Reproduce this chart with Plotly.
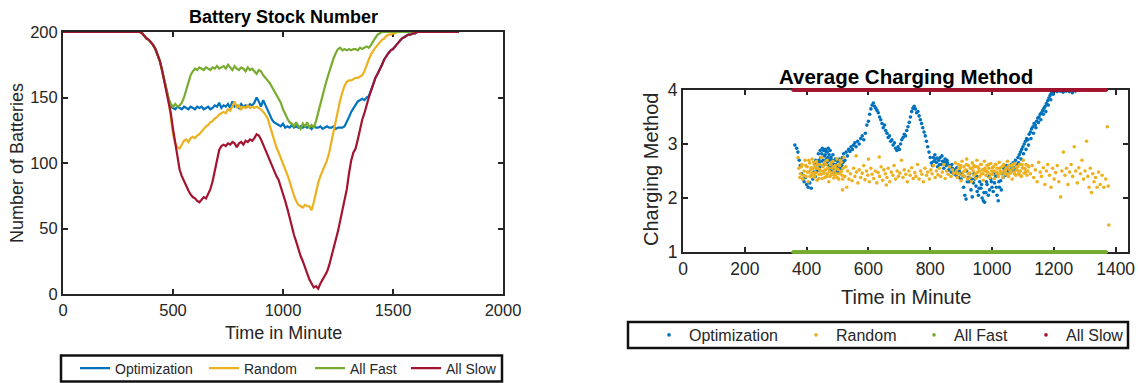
import plotly.graph_objects as go

# ---------------- Left chart data: Battery Stock Number ----------------
stock_t = [0, 340] + list(range(350, 1630, 10)) + [1800]

slow_v = [200, 200,
    200, 199, 197, 195, 194, 192, 190, 187, 183, 178,
    171, 163, 155, 148, 138, 126, 116, 105, 95, 90,
    86, 82, 79, 76, 74, 73, 71, 70, 72, 74,
    73, 76, 80, 86, 95, 104, 110, 113, 114, 113,
    115, 114, 116, 115, 112, 115, 116, 114, 117, 116,
    118, 117, 119, 122, 121, 118, 114, 110, 106, 101,
    97, 93, 90, 87, 82, 76, 71, 65, 58, 52,
    45, 40, 34, 29, 25, 20, 16, 11, 8, 5,
    6, 4, 8, 11, 14, 17, 22, 28, 35, 41,
    48, 56, 64, 72, 80, 92, 102, 108, 111, 118,
    126, 133, 138, 145, 150, 155, 160, 165, 168, 171,
    175, 179, 182, 184, 186, 187, 189, 191, 193, 195,
    196, 197, 198, 198, 199, 199, 200, 200,
    200]

fast_v = [200, 200,
    200, 199, 197, 195, 194, 192, 190, 187, 183, 178,
    171, 163, 155, 149, 145, 143, 145, 143, 144, 146,
    150, 156, 162, 167, 170, 172, 171, 173, 172, 171,
    173, 172, 171, 173, 172, 174, 172, 173, 174, 172,
    175, 173, 171, 174, 172, 171, 173, 172, 170, 173,
    171, 172, 170, 168, 171, 170, 167, 165, 163, 161,
    158, 155, 152, 149, 146, 141, 137, 134, 131, 130,
    128, 131, 128, 126, 130, 128, 131, 127, 129, 127,
    132, 139, 146, 152, 158, 164, 170, 175, 180, 184,
    187, 188, 186, 187, 186, 187, 186, 187, 187, 186,
    188, 187, 188, 189, 188, 190, 193, 196, 198, 199,
    200, 200, 200, 200, 200, 200, 200, 200, 200, 200,
    200, 200, 200, 200, 200, 200, 200, 200,
    200]

opt_v = [200, 200,
    200, 199, 197, 195, 194, 192, 190, 187, 183, 178,
    171, 163, 155, 149, 143, 142, 141, 143, 142, 141,
    143, 142, 141, 143, 142, 141, 143, 142, 143, 141,
    142, 143, 141, 142, 144, 143, 146, 142, 144, 143,
    145, 142, 147, 143, 144, 142, 145, 143, 144, 143,
    145, 144, 146, 150, 147, 143, 148, 144, 140, 136,
    133, 131, 130, 129, 128, 130, 127, 128, 127, 129,
    127, 128, 127, 128, 127, 128, 127, 128, 126, 128,
    127, 127, 128, 126, 127, 128, 127, 127, 128, 126,
    127, 127, 127, 128, 131, 135, 139, 142, 145, 147,
    148, 149, 148, 150, 151, 155, 160, 165, 168, 171,
    175, 179, 182, 184, 186, 187, 189, 191, 193, 195,
    196, 197, 198, 198, 199, 199, 200, 200,
    200]

rand_v = [200, 200,
    200, 199, 197, 195, 194, 192, 190, 187, 183, 178,
    171, 163, 155, 148, 135, 122, 115, 112, 111, 114,
    117, 118, 116, 119, 120, 119, 121, 122, 124, 126,
    128, 129, 131, 132, 134, 135, 137, 138, 139, 138,
    141, 140, 143, 147, 142, 144, 141, 143, 142, 144,
    142, 143, 142, 143, 142, 141, 139, 137, 134, 128,
    122, 116, 112, 108, 104, 99, 95, 91, 86, 80,
    75, 71, 68, 67, 66, 68, 67, 67, 64, 70,
    78, 85, 90, 94, 98, 102, 108, 116, 124, 133,
    141, 148, 154, 159, 162, 163, 163, 164, 165, 165,
    166, 167, 170, 175, 179, 183, 186, 188, 190, 192,
    194, 195, 197, 198, 198, 199, 199, 200, 200, 200,
    200, 200, 200, 200, 200, 200, 200, 200,
    200]

# ---------------- Right chart data: Average Charging Method ----------------
opt_pts = [
    (362, 2.98), (368, 2.92), (372, 2.85), (376, 2.70), (380, 2.60), (384, 2.45), (388, 2.35),
    (392, 2.30), (396, 2.38), (400, 2.25), (405, 2.20), (410, 2.28), (415, 2.18), (420, 2.35),
    (424, 2.48), (428, 2.40), (432, 2.55), (436, 2.62), (440, 2.70), (443, 2.58), (446, 2.75),
    (449, 2.82), (452, 2.68), (455, 2.88), (458, 2.78), (461, 2.90), (464, 2.72), (467, 2.85),
    (470, 2.92), (473, 2.80), (476, 2.88), (479, 2.75), (482, 2.65), (485, 2.80), (488, 2.55),
    (491, 2.70), (494, 2.62), (497, 2.50), (500, 2.68), (503, 2.58), (506, 2.72), (509, 2.65),
    (512, 2.55), (516, 2.75), (520, 2.82), (524, 2.70), (528, 2.85), (532, 2.78), (536, 2.90),
    (540, 2.86), (544, 2.95), (548, 2.90), (552, 2.98), (556, 3.02), (560, 2.95), (565, 3.05),
    (570, 3.00), (575, 3.10), (580, 3.15), (585, 3.08), (590, 3.20), (595, 3.35), (600, 3.42),
    (604, 3.55), (608, 3.65), (612, 3.72), (616, 3.76), (620, 3.70), (624, 3.66), (628, 3.62),
    (632, 3.58), (636, 3.50), (640, 3.45), (644, 3.38), (648, 3.30), (652, 3.35), (656, 3.25),
    (660, 3.20), (664, 3.12), (668, 3.15), (672, 3.05), (676, 3.08), (680, 2.98), (684, 3.02),
    (688, 2.92), (692, 2.88), (696, 2.95), (700, 2.90), (704, 3.00), (708, 3.08), (712, 3.12),
    (716, 3.18), (720, 3.15), (724, 3.25), (728, 3.32), (732, 3.40), (736, 3.50), (740, 3.60),
    (744, 3.66), (748, 3.70), (752, 3.65), (756, 3.58), (760, 3.60), (764, 3.52), (768, 3.45),
    (772, 3.38), (776, 3.30), (780, 3.22), (784, 3.15), (788, 3.05), (792, 2.95), (796, 2.85),
    (800, 2.75), (804, 2.65), (808, 2.60), (812, 2.68), (816, 2.72), (820, 2.66), (824, 2.58),
    (828, 2.70), (832, 2.75), (836, 2.62), (840, 2.68), (844, 2.55), (848, 2.72), (852, 2.60),
    (856, 2.65), (860, 2.52), (864, 2.58), (868, 2.48), (872, 2.55), (876, 2.45), (880, 2.50),
    (884, 2.42), (888, 2.48), (892, 2.38), (896, 2.45), (900, 2.35), (904, 2.42), (908, 2.20),
    (912, 2.05), (916, 1.98), (920, 2.30), (924, 2.38), (928, 2.45), (932, 2.15), (936, 2.02),
    (940, 2.28), (944, 2.35), (948, 2.22), (952, 2.12), (956, 2.05), (960, 2.30), (964, 2.18),
    (968, 2.00), (972, 1.95), (976, 1.92), (980, 2.10), (984, 2.25), (988, 2.05), (992, 2.15),
    (996, 2.35), (1000, 2.20), (1004, 2.12), (1008, 2.28), (1012, 2.40), (1016, 2.05), (1020, 1.95),
    (1024, 2.20), (1028, 2.32), (1032, 2.45), (1036, 2.38), (1040, 2.50), (1044, 2.42), (1048, 2.55),
    (1052, 2.48), (1056, 2.60), (1060, 2.52), (1064, 2.58), (1068, 2.65), (1072, 2.55), (1076, 2.70),
    (1080, 2.62), (1084, 2.75), (1088, 2.80), (1092, 2.85), (1096, 2.90), (1100, 2.95), (1104, 3.00),
    (1108, 3.05), (1112, 3.10), (1116, 3.08), (1120, 3.18), (1124, 3.22), (1128, 3.28), (1132, 3.32),
    (1136, 3.38), (1140, 3.35), (1144, 3.42), (1148, 3.48), (1152, 3.50), (1156, 3.55), (1160, 3.58),
    (1164, 3.62), (1168, 3.66), (1172, 3.70), (1176, 3.75), (1180, 3.80), (1184, 3.85), (1188, 3.90),
    (1192, 3.94), (1196, 3.98), (1200, 4.00), (1210, 3.97), (1220, 3.98), (1230, 3.96), (1240, 3.98),
    (1250, 3.97), (1260, 3.95), (1270, 3.98),
]
opt_pts_dense = [
    (426, 2.62), (430, 2.70), (434, 2.50), (438, 2.82), (441, 2.66), (444, 2.88), (447, 2.60),
    (451, 2.92), (454, 2.70), (457, 2.62), (460, 2.80), (463, 2.86), (466, 2.66), (469, 2.75),
    (472, 2.60), (475, 2.70), (478, 2.52), (481, 2.58), (484, 2.70), (487, 2.48), (490, 2.62),
    (494, 2.72), (498, 2.60), (502, 2.48), (505, 2.62), (508, 2.55), (511, 2.70), (514, 2.60),
    (518, 2.66), (810, 2.75), (815, 2.80), (822, 2.74), (830, 2.62), (838, 2.78), (846, 2.66),
    (854, 2.70), (862, 2.60), (870, 2.62), (878, 2.52), (886, 2.56), (894, 2.50), (902, 2.45),
    (910, 2.40), (918, 2.50), (926, 2.30), (934, 2.35), (942, 2.45), (950, 2.40), (958, 2.18),
    (966, 2.25), (974, 2.10), (982, 2.30), (990, 2.40), (998, 2.30), (1006, 2.45), (1014, 2.20),
    (1022, 2.30), (1030, 2.15), (1038, 2.55), (1046, 2.60), (1054, 2.50), (1062, 2.62), (1070, 2.50),
    (1078, 2.58), (1086, 2.65), (1094, 2.72), (1102, 2.82), (1110, 2.90), (1118, 2.98), (1126, 3.10),
    (1134, 3.20), (1142, 3.30), (1150, 3.40), (1158, 3.45), (1166, 3.55), (1174, 3.60), (1182, 3.72),
    (1190, 3.82), (1198, 3.92),
]

rand_pts = [
    (372, 2.75), (375, 2.55), (380, 2.45), (385, 2.62), (388, 2.35), (392, 2.50), (395, 2.70),
    (398, 2.40), (402, 2.58), (405, 2.30), (408, 2.48), (410, 2.65), (413, 2.52), (416, 2.42),
    (418, 2.72), (421, 2.55), (424, 2.38), (426, 2.60), (429, 2.47), (432, 2.68), (434, 2.33),
    (437, 2.55), (440, 2.44), (442, 2.62), (445, 2.50), (448, 2.75), (450, 2.36), (453, 2.58),
    (456, 2.46), (458, 2.66), (461, 2.52), (464, 2.40), (466, 2.70), (469, 2.56), (472, 2.30),
    (474, 2.49), (477, 2.62), (480, 2.43), (482, 2.55), (485, 2.68), (488, 2.37), (490, 2.50),
    (493, 2.60), (496, 2.45), (498, 2.72), (501, 2.53), (504, 2.35), (507, 2.60), (510, 2.48),
    (512, 2.66), (515, 2.42), (516, 2.15), (518, 2.55), (521, 2.75), (524, 2.40), (527, 2.58),
    (530, 2.20), (533, 2.50), (537, 2.35),
    (542, 2.45), (547, 2.32), (552, 2.55), (556, 2.40), (560, 2.78), (561, 2.48), (566, 2.28),
    (570, 2.52), (575, 2.38), (580, 2.46), (585, 2.60), (589, 2.34), (594, 2.50), (598, 2.42),
    (600, 2.72), (603, 2.30), (608, 2.55), (612, 2.44), (617, 2.36), (622, 2.50), (627, 2.28),
    (631, 2.47), (635, 2.76), (636, 2.40), (641, 2.58), (646, 2.33), (650, 2.52), (655, 2.45),
    (658, 2.24), (660, 2.38), (664, 2.55), (669, 2.30), (674, 2.48), (679, 2.42), (683, 2.60),
    (688, 2.35), (693, 2.50), (697, 2.40), (702, 2.46), (707, 2.70), (712, 2.38), (716, 2.52),
    (721, 2.44), (726, 2.30), (731, 2.50), (735, 2.42), (740, 2.56), (745, 2.36), (750, 2.47),
    (754, 2.40), (759, 2.62), (764, 2.35), (769, 2.50), (773, 2.44), (778, 2.30), (783, 2.55),
    (788, 2.42), (792, 2.48), (797, 2.35), (802, 2.52), (806, 2.45), (811, 2.60), (816, 2.38),
    (820, 2.50), (825, 2.43), (830, 2.55), (834, 2.40), (839, 2.48), (844, 2.62), (848, 2.36),
    (853, 2.50), (858, 2.44), (862, 2.58), (867, 2.40), (872, 2.52), (876, 2.46), (881, 2.65),
    (885, 2.50), (888, 2.38), (891, 2.62), (894, 2.45), (897, 2.55), (900, 2.32), (903, 2.68),
    (906, 2.48), (909, 2.58), (912, 2.40), (915, 2.52), (918, 2.72), (921, 2.35), (924, 2.60),
    (927, 2.46), (930, 2.55), (933, 2.30), (936, 2.65), (939, 2.50), (942, 2.42), (945, 2.58),
    (948, 2.36), (951, 2.70), (954, 2.48), (957, 2.55), (960, 2.40), (963, 2.62), (966, 2.45),
    (969, 2.52), (972, 2.33), (975, 2.68), (978, 2.50), (981, 2.42), (984, 2.60), (987, 2.47),
    (990, 2.55), (993, 2.38), (996, 2.64), (999, 2.50), (1002, 2.44), (1005, 2.58), (1008, 2.36),
    (1011, 2.62), (1014, 2.48), (1017, 2.55), (1020, 2.40), (1023, 2.66), (1026, 2.50), (1029, 2.45),
    (1032, 2.58), (1035, 2.38), (1038, 2.62), (1041, 2.50), (1044, 2.44), (1047, 2.56), (1050, 2.68),
    (1053, 2.40), (1056, 2.52), (1059, 2.46), (1062, 2.60), (1065, 2.35), (1068, 2.55), (1071, 2.48),
    (1074, 2.64), (1077, 2.42), (1080, 2.52), (1083, 2.58), (1086, 2.45), (1089, 2.62), (1092, 2.50),
    (1095, 2.40), (1098, 2.56), (1101, 2.70), (1104, 2.46), (1107, 2.54), (1110, 2.62), (1113, 2.42),
    (1116, 2.50), (1119, 2.58),
    (1124, 2.45), (1130, 2.60), (1135, 2.38), (1140, 2.52), (1146, 2.30), (1151, 2.66), (1156, 2.48),
    (1160, 2.40), (1166, 2.56), (1171, 2.25), (1176, 2.50), (1180, 2.62), (1186, 2.42), (1191, 2.20),
    (1196, 2.55), (1201, 2.35), (1206, 2.47), (1211, 2.60), (1216, 2.30), (1222, 2.02), (1226, 2.50),
    (1231, 2.85), (1236, 2.42), (1241, 2.55), (1246, 2.25), (1251, 2.48), (1256, 2.62), (1261, 2.40),
    (1266, 2.95), (1271, 2.50), (1276, 2.28), (1281, 2.56), (1286, 2.45), (1291, 2.70), (1296, 2.35),
    (1301, 2.50), (1306, 3.05), (1310, 2.40), (1314, 2.20), (1318, 2.55), (1322, 2.10), (1326, 2.45),
    (1330, 2.30), (1335, 2.38), (1340, 2.20), (1345, 2.48), (1350, 2.25), (1356, 2.42), (1362, 2.20),
    (1368, 2.35), (1373, 3.32), (1376, 2.22), (1378, 1.50),
]
rand_pts_dense = [
    (378, 2.38), (383, 2.58), (390, 2.42), (397, 2.60), (403, 2.48), (407, 2.70), (411, 2.40),
    (415, 2.56), (419, 2.46), (423, 2.66), (427, 2.42), (431, 2.55), (435, 2.62), (439, 2.36),
    (443, 2.52), (447, 2.44), (451, 2.60), (455, 2.50), (459, 2.38), (463, 2.62), (467, 2.45),
    (471, 2.55), (475, 2.40), (479, 2.65), (483, 2.46), (487, 2.58), (491, 2.42), (495, 2.55),
    (499, 2.38), (503, 2.62), (506, 2.45), (509, 2.70), (513, 2.50), (517, 2.35),
    (887, 2.45), (893, 2.55), (899, 2.60), (905, 2.42), (911, 2.50), (917, 2.62), (923, 2.45),
    (929, 2.38), (935, 2.55), (941, 2.60), (947, 2.45), (953, 2.58), (959, 2.50), (965, 2.62),
    (971, 2.45), (977, 2.55), (983, 2.50), (989, 2.62), (995, 2.44), (1001, 2.56), (1007, 2.50),
    (1013, 2.62), (1019, 2.45), (1025, 2.55), (1031, 2.48), (1037, 2.60), (1043, 2.52), (1049, 2.45),
    (1055, 2.60), (1061, 2.50), (1067, 2.62), (1073, 2.45), (1079, 2.58), (1085, 2.50), (1091, 2.42),
    (1097, 2.62), (1103, 2.55), (1109, 2.48), (1115, 2.60),
]

# All Fast / All Slow: constant methods over the active window
const_t = list(range(356, 1372, 2))
fast_method = [1] * len(const_t)
slow_method = [4] * len(const_t)

names = ["Optimization", "Random", "All Fast", "All Slow"]
colors = ["#0072BD", "#EDB120", "#77AC30", "#A2142F"]

FONT = "Liberation Sans, Arial, Helvetica, sans-serif"
AX = "#262626"
W, H = 1138, 383
def px_x(p): return p / W
def px_y(p): return 1 - p / H

fig = go.Figure()

# legend placement (pixel x of each item) for each chart
left_leg_x = [75, 204, 310, 406]
right_leg_x = [649, 796, 914, 1026]

# Left chart lines
for i, (name, vals, col) in enumerate(zip(names, [opt_v, rand_v, fast_v, slow_v], colors)):
    fig.add_trace(go.Scatter(x=stock_t, y=vals, mode="lines", name=name,
                             line=dict(color=col, width=2.2),
                             xaxis="x", yaxis="y", legend="legend" if i == 0 else f"legend{i + 1}"))

# Right chart points
opt_all = opt_pts + opt_pts_dense
rand_all = rand_pts + rand_pts_dense
right_series = [
    ([p[0] for p in opt_all], [p[1] for p in opt_all]),
    ([p[0] for p in rand_all], [p[1] for p in rand_all]),
    (const_t, fast_method),
    (const_t, slow_method),
]
for i, (name, (xs, ys), col) in enumerate(zip(names, right_series, colors)):
    fig.add_trace(go.Scatter(x=xs, y=ys, mode="markers", name=name,
                             marker=dict(color=col, size=3.6, line=dict(width=0)),
                             cliponaxis=False,
                             xaxis="x2", yaxis="y2", legend=f"legend{i + 5}"))

axis_common = dict(showline=True, linecolor=AX, linewidth=2, mirror="ticks",
                   ticks="inside", ticklen=5, tickwidth=2, tickcolor=AX,
                   showgrid=False, zeroline=False, layer="below traces")

legends = {}
for i in range(4):
    key = "legend" if i == 0 else f"legend{i + 1}"
    legends[key] = dict(x=px_x(left_leg_x[i]), y=px_y(368.5), xanchor="left", yanchor="middle",
                        bgcolor="rgba(0,0,0,0)", borderwidth=0,
                        font=dict(family=FONT, size=14, color=AX))
    legends[f"legend{i + 5}"] = dict(x=px_x(right_leg_x[i]), y=px_y(335), xanchor="left", yanchor="middle",
                                     bgcolor="rgba(0,0,0,0)", borderwidth=0,
                                     font=dict(family=FONT, size=16, color=AX))

fig.update_layout(
    width=W, height=H,
    margin=dict(l=0, r=0, t=0, b=0, autoexpand=False),
    paper_bgcolor="white", plot_bgcolor="white",
    font=dict(family=FONT, color=AX),
    xaxis=dict(domain=[px_x(63), px_x(503)], range=[0, 2000], anchor="y",
               tickvals=[0, 500, 1000, 1500, 2000], tickfont=dict(family=FONT, color=AX, size=16.5), **axis_common),
    yaxis=dict(domain=[px_y(294), px_y(32)], range=[0, 200], anchor="x",
               tickvals=[0, 50, 100, 150, 200], tickfont=dict(family=FONT, color=AX, size=16.5), **axis_common),
    xaxis2=dict(domain=[px_x(683), px_x(1128)], range=[0, 1440], anchor="y2",
                tickvals=[0, 200, 400, 600, 800, 1000, 1200, 1400], tickfont=dict(family=FONT, color=AX, size=17.5), **axis_common),
    yaxis2=dict(domain=[px_y(252), px_y(90)], range=[1, 4], anchor="x2",
                tickvals=[1, 2, 3, 4], tickfont=dict(family=FONT, color=AX, size=17.5), **axis_common),
    showlegend=True,
    **legends,
)

# legend frames
fig.add_shape(type="rect", xref="paper", yref="paper",
              x0=px_x(61), x1=px_x(502), y0=px_y(381.5), y1=px_y(355.5),
              line=dict(color="#111111", width=2.5), fillcolor="rgba(0,0,0,0)", layer="above")
fig.add_shape(type="rect", xref="paper", yref="paper",
              x0=px_x(628), x1=px_x(1128), y0=px_y(348), y1=px_y(322),
              line=dict(color="#111111", width=2.5), fillcolor="rgba(0,0,0,0)", layer="above")

annotations = [
    dict(text="<b>Battery Stock Number</b>", x=px_x(283), y=px_y(17), font=dict(size=18, color="black")),
    dict(text="Time in Minute", x=px_x(283), y=px_y(333), font=dict(size=18, color=AX)),
    dict(text="Number of Batteries", x=px_x(17), y=px_y(163), textangle=-90, font=dict(size=18, color=AX)),
    dict(text="<b>Average Charging Method</b>", x=px_x(906), y=px_y(76), font=dict(size=20.5, color="black")),
    dict(text="Time in Minute", x=px_x(906), y=px_y(297), font=dict(size=20, color=AX)),
    dict(text="Charging Method", x=px_x(651), y=px_y(170), textangle=-90, font=dict(size=20, color=AX)),
]
for a in annotations:
    a.update(xref="paper", yref="paper", showarrow=False, xanchor="center", yanchor="middle")
    a["font"]["family"] = FONT
fig.update_layout(annotations=annotations)

fig.write_html("out.html")
